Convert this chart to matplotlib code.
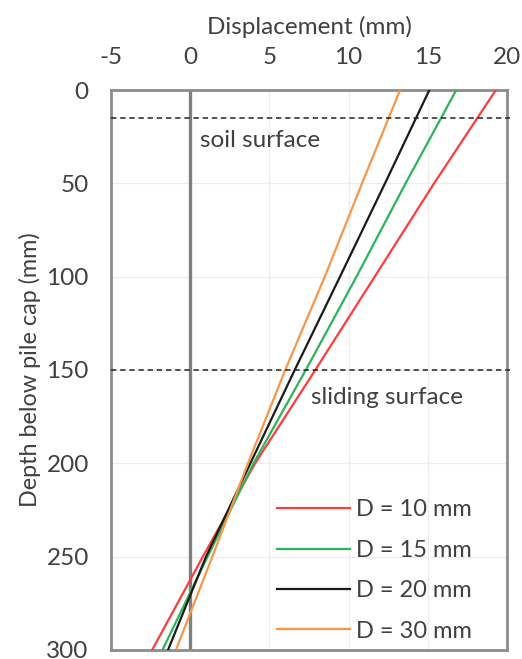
import numpy as np
import matplotlib.pyplot as plt

plt.rcParams['font.family'] = ['Lato', 'DejaVu Sans']
plt.rcParams['axes.unicode_minus'] = False

# depth below pile cap (mm) and lateral displacement (mm) for each D
depth = [0, 50, 100, 150, 200, 250, 300]
labels = ['D = 10 mm', 'D = 15 mm', 'D = 20 mm', 'D = 30 mm']
disp_10 = [19.3, 15.4, 11.65, 7.9, 4.1, 0.8, -2.4]
disp_15 = [16.8, 13.6, 10.5, 7.3, 4.0, 1.1, -1.75]
disp_20 = [15.1, 12.3, 9.46, 6.6, 3.8, 1.0, -1.4]
disp_30 = [13.25, 10.85, 8.5, 6.0, 3.65, 1.4, -0.9]
colors = ['#ff3b3b', '#2db35a', '#1a1a1a', '#f79646']

soil_depth = 15
slide_depth = 150

fig = plt.figure(figsize=(5.22, 6.59), dpi=100)
ax = fig.add_axes([0.2126, 0.0137, 0.7586, 0.8497])

txt = '#404040'
ax.set_xlim(-5, 20)
ax.set_ylim(300, 0)
ax.set_xticks([-5, 0, 5, 10, 15, 20])
ax.set_yticks([0, 50, 100, 150, 200, 250, 300])
ax.xaxis.tick_top()
ax.xaxis.set_label_position('top')
ax.tick_params(length=0, labelsize=17.5, colors=txt)
ax.tick_params(axis='x', pad=16)
ax.tick_params(axis='y', pad=16)
ax.set_xlabel('Displacement (mm)', fontsize=17.5, color=txt, labelpad=9)
ax.set_ylabel('Depth below pile cap (mm)', fontsize=16.8, color=txt, labelpad=4)
ax.grid(True, color='#ececec', lw=0.9)
ax.set_axisbelow(True)
for s in ax.spines.values():
    s.set_color('#8c8c8c')
    s.set_linewidth(2.0)

ax.axvline(0, color='#808080', lw=2.4, zorder=2)

for d, c, lab in zip([disp_10, disp_15, disp_20, disp_30], colors, labels):
    ax.plot(d, depth, color=c, lw=1.6, label=lab, zorder=3)

for yy in [soil_depth, slide_depth]:
    ax.plot([-5, 20.2], [yy, yy], color='#222222', lw=1.1, ls=(0, (3.5, 2.5)),
            clip_on=False, zorder=4)

ax.text(0.65, 27, 'soil surface', fontsize=17.5, color=txt, va='center')
ax.text(7.6, 165, 'sliding surface', fontsize=17.5, color=txt, va='center')

leg = ax.legend(loc='lower left', frameon=False, fontsize=17, handlelength=3.1,
                handletextpad=0.25, labelspacing=0.82, borderaxespad=0,
                borderpad=0, bbox_to_anchor=(0.419, 0.015))
for t in leg.get_texts():
    t.set_color(txt)

fig.savefig('out.png', dpi=100)
